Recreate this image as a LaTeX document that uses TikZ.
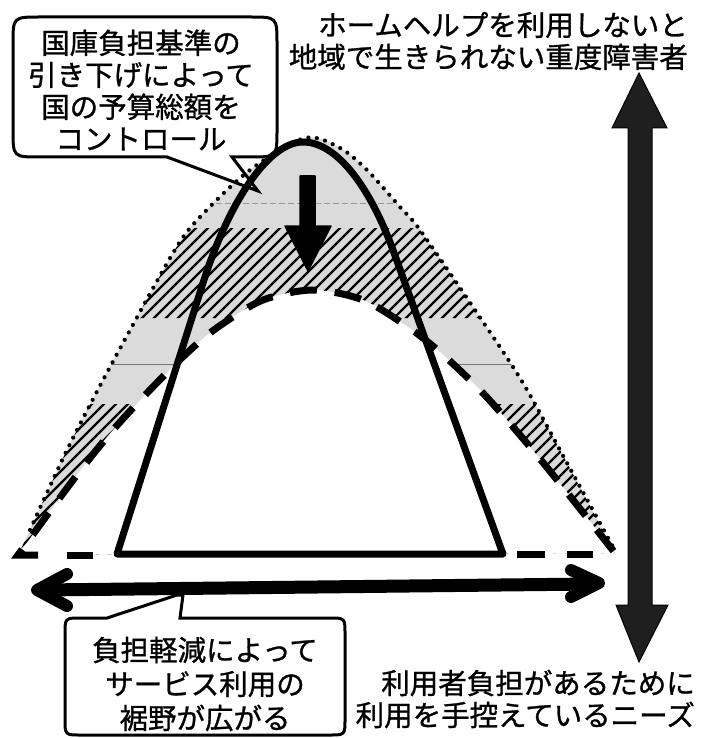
\documentclass[tikz,border=0pt]{standalone}
\usepackage{fontspec}
\newfontfamily\jpfont[FakeBold=1]{Noto Sans CJK JP}
\begin{document}
\begin{tikzpicture}[x=1pt,y=-1pt,
  jtxt/.style={font=\jpfont\fontsize{28.5}{32}\selectfont, inner sep=0pt},
  jtxtb/.style={font=\jpfont\fontsize{28.5}{34}\selectfont, inner sep=0pt},
  solidline/.style={line width=7pt, line join=round},
  dashline/.style={line width=7pt, dash pattern=on 27pt off 18pt},
  basedash/.style={line width=7pt},
  dotline/.style={line width=4.2pt, line cap=round, dash pattern=on 0pt off 8.5pt},
  hatchline/.style={line width=2.3pt},
  callout/.style={draw=black, line width=3pt, fill=white, line join=miter},
  bigarrow/.style={fill=black!88, draw=black, line width=1pt, line join=miter},
  harrow/.style={line width=12pt, line cap=round, line join=round},
]
\useasboundingbox (0,0) rectangle (709,738);

% ---- shaded band between outer dotted curve and dashed curve
\begin{scope}
  \clip plot[smooth] coordinates {(18,555) (30,530) (67,450) (110,367) (173,253) (200,217) (250,170) (305,138) (340,148) (367,170) (400,207) (420,230) (477,313) (523,383) (567,463) (615,553)} -- cycle;
  \fill[black!14] (0,0) rectangle (709,738);
  \begin{scope}
    \clip (0,228) rectangle (709,318) (0,404) rectangle (709,600);
    \foreach \k in {-620,-608,...,720} \draw[hatchline] (\k,600) -- ++(600,-600);
  \end{scope}
  \draw[black!55, line width=0.8pt] (0,364) -- (709,364);
  \draw[black!40, line width=0.8pt, dash pattern=on 6pt off 3pt] (0,203) -- (709,203);
\end{scope}
\fill[white] plot[smooth] coordinates {(18,555) (53,507) (83,467) (113,430) (147,393) (187,353) (218,327) (263,300) (313,290) (363,300) (408,327) (441,353) (480,390) (514,428) (545,465) (577,505) (615,553)} -- cycle;

% ---- top callout (box with pointer as one outline)
\draw[callout] (40,17) -- (250,17) .. controls (277,17) .. (277,44) -- (277,130) .. controls (277,157) .. (250,157) -- (232,157) -- (258,191) -- (167,157) -- (40,157) .. controls (13,157) .. (13,130) -- (13,44) .. controls (13,17) .. (40,17) -- cycle;

% ---- solid curve
\draw[solidline] (117,554) -- (203,283) .. controls (228,204) and (268,142) .. (303,142) .. controls (338,142) and (371,190) .. (393,250) -- (503,554) -- cycle;

% ---- dashed curve
\draw[dashline] (38,555) -- plot[smooth] coordinates {(18,555) (53,507) (83,467) (113,430) (147,393) (187,353) (218,327) (263,300) (313,290) (363,300) (408,327) (441,353) (480,390) (514,428) (545,465) (577,505) (615,553)};
\draw[basedash] (67,555) -- (93,555);
\draw[basedash] (517,554) -- (545,554);
\draw[basedash] (567,554) -- (593,554);

% ---- dotted curve
\draw[dotline] plot[smooth] coordinates {(30,530) (67,450) (110,367) (173,253) (200,217) (250,170) (305,138) (340,148) (367,170) (400,207) (420,230) (477,313) (523,383) (567,463) (613,547)};

% ---- downward arrow
\fill[line join=round, draw, line width=1.5pt] (300,176) -- (315,176) -- (315,226) -- (331,226) -- (308,271) -- (285,226) -- (300,226) -- cycle;

% ---- vertical double arrow
\draw[bigarrow] (639,73) -- (667,128) -- (652,128) -- (652,605) -- (668,605) -- (639,662) -- (616,605) -- (628,605) -- (628,128) -- (612,128) -- cycle;

% ---- horizontal double arrow
\draw[line width=13pt] (42,590) -- (592,584);
\draw[harrow] (67,574) -- (37,590) -- (67,606);
\draw[harrow] (571,570) -- (599,583) -- (571,597);

% ---- bottom callout (box with pointer as one outline)
\draw[callout] (81,618) -- (107,618) -- (177,595) -- (183,595) -- (180,618) -- (329,618) .. controls (345,618) .. (345,634) -- (345,719) .. controls (345,735) .. (329,735) -- (81,735) .. controls (65,735) .. (65,719) -- (65,634) .. controls (65,618) .. (81,618) -- cycle;

% ---- texts
\node[jtxt, align=center] (tA) at (141,90) {国庫負担基準の\\引き下げによって\\国の予算総額を\\コントロール};
\node[jtxt, align=right, anchor=east] (tB) at (688,41) {ホームヘルプを利用しないと\\地域で生きられない重度障害者};
\node[jtxtb, align=center] (tC) at (205,684) {負担軽減によって\\サービス利用の\\裾野が広がる};
\node[jtxt, align=right, anchor=east] (tD) at (695,699) {利用者負担があるために\\利用を手控えているニーズ};
\end{tikzpicture}
\end{document}
